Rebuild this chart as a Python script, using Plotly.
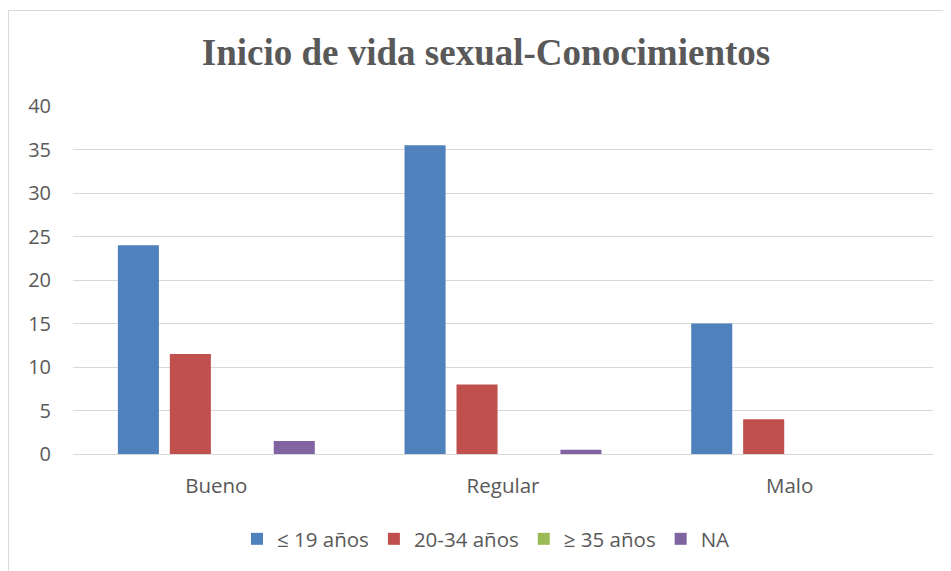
import plotly.graph_objects as go

categories = ["Bueno", "Regular", "Malo"]
series_names = ["≤ 19 años", "20-34 años", "≥ 35 años", "NA"]
vals_le19 = [24, 35.5, 15]
vals_20_34 = [11.5, 8, 4]
vals_ge35 = [0, 0, 0]
vals_na = [1.5, 0.5, 0]
colors = ["#4F81BD", "#C0504D", "#9BBB59", "#8064A2"]
y_ticks = [0, 5, 10, 15, 20, 25, 30, 35, 40]

fig = go.Figure()
for name, vals, col in zip(series_names, [vals_le19, vals_20_34, vals_ge35, vals_na], colors):
    fig.add_trace(go.Bar(x=categories, y=vals, name=name, marker=dict(color=col, line=dict(width=0))))

# page body has an 8px margin, so figure origin sits at (8, 8) on the page
OFF = 8
W, H = 951 - OFF, 571 - OFF
ml, mr = 73 - OFF, 18
mt, mb = 106 - OFF, 117
pw, ph = W - ml - mr, H - mt - mb

def px_x(p):  # page pixel -> paper x
    return (p - OFF - ml) / pw

def px_y(p):  # page pixel -> paper y
    return (H - mb - (p - OFF)) / ph

fig.update_layout(
    width=W, height=H,
    margin=dict(l=ml, r=mr, t=mt, b=mb, autoexpand=False),
    paper_bgcolor="white", plot_bgcolor="white",
    barmode="group", bargap=0.275, bargroupgap=0.21,
    title=dict(text="<b>Inicio de vida sexual-Conocimientos</b>",
               font=dict(family="Liberation Serif", size=37, color="#595959"),
               x=(486 - OFF) / W, xanchor="center", y=1 - (52 - OFF) / H, yanchor="middle", yref="container"),
    font=dict(family="Open Sans", size=20, color="#595959"),
    legend=dict(orientation="h", x=px_x(486), xanchor="center", y=px_y(539), yanchor="middle",
                font=dict(size=20.5, color="#595959"), itemwidth=30, traceorder="normal"),
    showlegend=True,
)
fig.update_yaxes(range=[0, 40], tickvals=y_ticks, showgrid=True, gridcolor="#d9d9d9", gridwidth=1,
                 zeroline=True, zerolinecolor="#d9d9d9", zerolinewidth=1, showline=False,
                 ticks="", ticklabelstandoff=21, tickfont=dict(size=20, color="#595959"), fixedrange=True)
fig.update_xaxes(showline=False, ticks="", ticklabelstandoff=17, tickfont=dict(size=20.5, color="#595959"),
                 showgrid=False, fixedrange=True)

# chart-area border (left and top visible)
fig.add_shape(type="line", xref="paper", yref="paper", x0=px_x(8.5), x1=px_x(8.5), y0=px_y(10.5), y1=px_y(700),
              line=dict(color="#d9d9d9", width=1))
fig.add_shape(type="line", xref="paper", yref="paper", x0=px_x(8.5), x1=px_x(1100), y0=px_y(10.5), y1=px_y(10.5),
              line=dict(color="#d9d9d9", width=1))

fig.write_html("out.html")
